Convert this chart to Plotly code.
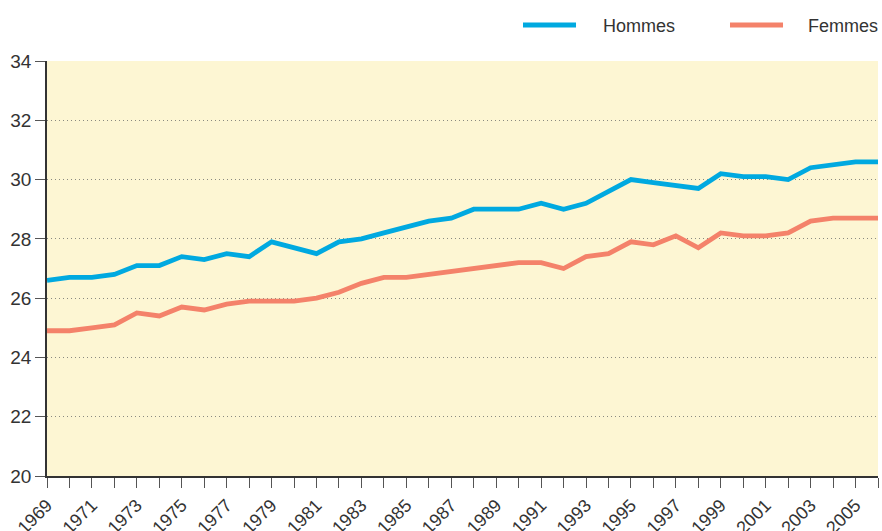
import plotly.graph_objects as go

years = list(range(1969, 2007))
hommes = [26.6, 26.7, 26.7, 26.8, 27.1, 27.1, 27.4, 27.3, 27.5, 27.4,
          27.9, 27.7, 27.5, 27.9, 28.0, 28.2, 28.4, 28.6, 28.7, 29.0,
          29.0, 29.0, 29.2, 29.0, 29.2, 29.6, 30.0, 29.9, 29.8, 29.7,
          30.2, 30.1, 30.1, 30.0, 30.4, 30.5, 30.6, 30.6]
femmes = [24.9, 24.9, 25.0, 25.1, 25.5, 25.4, 25.7, 25.6, 25.8, 25.9,
          25.9, 25.9, 26.0, 26.2, 26.5, 26.7, 26.7, 26.8, 26.9, 27.0,
          27.1, 27.2, 27.2, 27.0, 27.4, 27.5, 27.9, 27.8, 28.1, 27.7,
          28.2, 28.1, 28.1, 28.2, 28.6, 28.7, 28.7, 28.7]
tick_labels = [str(y) if (y - 1969) % 2 == 0 else "" for y in years]
y_ticks = [20, 22, 24, 26, 28, 30, 32, 34]
series_names = ["Hommes", "Femmes"]
series_colors = ["#00A9E0", "#F4826A"]

FONT = "Liberation Sans, Arial, sans-serif"

fig = go.Figure()
for name, vals, col in zip(series_names, [hommes, femmes], series_colors):
    fig.add_trace(go.Scatter(x=years, y=vals, mode="lines", name=name,
                             line=dict(color=col, width=4.8), showlegend=False))

# custom legend (line swatch + label) in paper coordinates
legend_pos = [(0.5728, 0.6366, 0.667), (0.8219, 0.8857, 0.9135)]
for (x0, x1, xt), name, col in zip(legend_pos, series_names, series_colors):
    fig.add_shape(type="line", xref="paper", yref="paper", x0=x0, x1=x1,
                  y0=1.087, y1=1.087, line=dict(color=col, width=5))
    fig.add_annotation(xref="paper", yref="paper", x=xt, y=1.085, text=name,
                       showarrow=False, xanchor="left", yanchor="middle",
                       font=dict(size=18, color="#333333"))

fig.update_layout(
    width=882, height=531,
    margin=dict(l=47, r=4, t=61, b=55),
    paper_bgcolor="white",
    plot_bgcolor="#FDF6D3",
    font=dict(family=FONT, size=18, color="#333333"),
    showlegend=False,
)

fig.update_xaxes(range=[1969, 2006], tickmode="array", tickvals=years, ticktext=tick_labels,
                 tickangle=-45, ticks="outside", ticklen=10, tickcolor="#555555",
                 showline=True, linecolor="#333333", linewidth=1.5, automargin=False,
                 showgrid=False, zeroline=False, tickfont=dict(size=18))
fig.update_yaxes(range=[20, 34], tickmode="array", tickvals=y_ticks,
                 ticks="outside", ticklen=10, tickcolor="#555555",
                 showline=True, linecolor="#333333", linewidth=1.5, automargin=False,
                 showgrid=True, gridcolor="#8a8a80", griddash="1px,3px", gridwidth=1,
                 zeroline=False, tickfont=dict(size=19))

fig.write_html(
    "out.html",
    config={"displayModeBar": False},
    post_script="document.body.style.margin='0';document.body.style.overflow='hidden';",
)
